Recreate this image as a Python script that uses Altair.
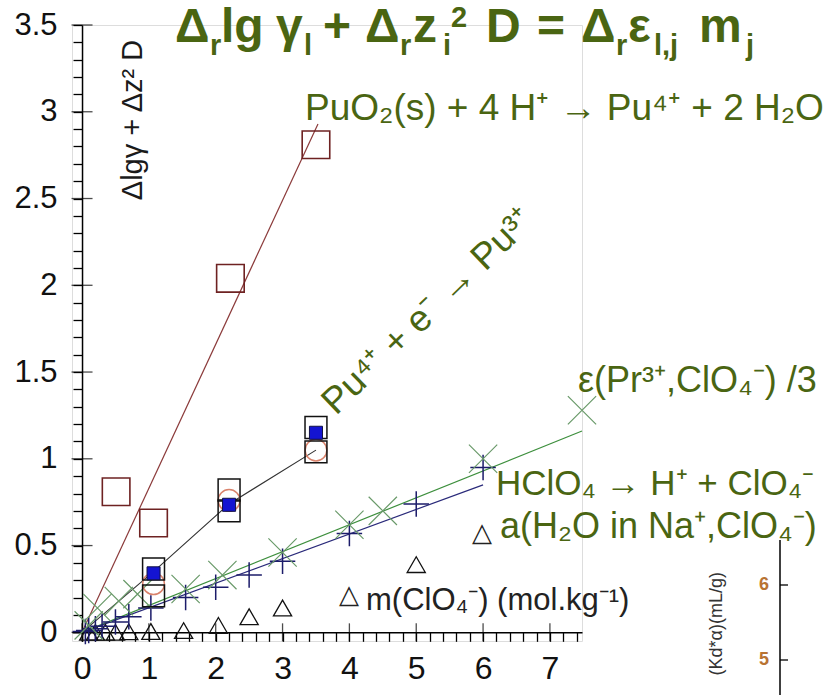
import altair as alt
import pandas as pd

# ---------------- data ----------------
# PuO2(s) solubility: open squares + fitted line
pu_sol_x = [0.51, 1.07, 2.22, 3.50]
pu_sol_y = [0.81, 0.63, 2.04, 2.81]
pu_sol_fit_x = [0.0, 3.53]
pu_sol_fit_y = [0.0, 2.93]

# Pu4+ + e- -> Pu3+ : open squares, filled squares, open circles, line
redox_sq_x = [1.07, 1.07, 2.20, 2.20, 3.50, 3.50]
redox_sq_y = [0.365, 0.21, 0.82, 0.70, 1.18, 1.04]
redox_fill_x = [1.07, 2.20, 3.50]
redox_fill_y = [0.34, 0.735, 1.15]
redox_circ_x = [1.07, 2.20, 3.50]
redox_circ_y = [0.28, 0.76, 1.05]
redox_fit_x = [0.0, 1.07, 2.20, 3.50]
redox_fit_y = [0.0, 0.35, 0.74, 1.05]

# epsilon(Pr3+, ClO4-)/3 : crosses (x) + line
pr_x = [0.10, 0.23, 0.55, 0.83, 1.55, 2.10, 3.00, 4.00, 4.50, 6.00, 7.48]
pr_y = [0.04, 0.14, 0.18, 0.22, 0.25, 0.33, 0.46, 0.62, 0.70, 1.00, 1.28]
pr_fit_x = [0.0, 7.48]
pr_fit_y = [0.0, 1.16]

# HClO4 -> H+ + ClO4- : plus markers + line
hclo4_x = [0.05, 0.10, 0.20, 0.30, 0.50, 0.70, 1.03, 1.55, 2.00, 2.50, 3.00, 4.00, 5.00, 6.00]
hclo4_y = [0.005, 0.01, 0.02, 0.035, 0.06, 0.09, 0.14, 0.20, 0.26, 0.33, 0.41, 0.57, 0.74, 0.95]
hclo4_fit_x = [0.0, 6.0]
hclo4_fit_y = [0.0, 0.85]

# a(H2O in Na+, ClO4-) : open triangles
aw_x = [0.10, 0.20, 0.35, 0.50, 0.70, 1.03, 1.52, 2.04, 2.50, 3.00, 5.00]
aw_y = [0.0, 0.0, 0.0, 0.0, 0.003, 0.005, 0.01, 0.04, 0.09, 0.14, 0.39]

# axis ticks
x_major = [0, 1, 2, 3, 4, 5, 6, 7]
x_minor = [round(i * 0.2, 1) for i in range(38)]
y_major = [0, 0.5, 1, 1.5, 2, 2.5, 3, 3.5]
y_minor = [round(i * 0.1, 1) for i in range(36)]

# ---------------- layout ----------------
PAD_L, PAD_T = 72, 25
W, H = 510, 616
OLIVE = "#4a6512"
FONT = "Liberation Sans"

xs = alt.Scale(domain=[-0.15, 7.48], nice=False, zero=False)
ys = alt.Scale(domain=[-0.05, 3.5], nice=False, zero=False)

axis_common = dict(
    grid=False, domainColor="black", domainWidth=1.5, tickColor="black",
    tickWidth=1.3, tickSize=9, labelColor="#111", labelFont=FONT,
    labelOverlap=False, labelFlush=False, format="~g", title=None,
)
xaxis = alt.Axis(values=x_minor, offset=-0.05 * H / 3.55,
                 labelExpr="abs(datum.value - round(datum.value)) < 0.001 ? datum.label : ''",
                 labelFontSize=32, labelPadding=12, **axis_common)
yaxis = alt.Axis(values=y_minor, offset=-0.15 * W / 7.63,
                 labelExpr="abs(datum.value*2 - round(datum.value*2)) < 0.001 ? datum.label : ''",
                 labelFontSize=31, labelPadding=16, **axis_common)

X = alt.X("x:Q", scale=xs, axis=xaxis)
Y = alt.Y("y:Q", scale=ys, axis=yaxis)


def df(xv, yv):
    return pd.DataFrame({"x": xv, "y": yv})


def line(xv, yv, color, w=1.2):
    return alt.Chart(df(xv, yv)).mark_line(color=color, strokeWidth=w).encode(x=X, y=Y)


def pts(xv, yv, shape, size, color, filled=False, fill=None, sw=1.4):
    kw = dict(shape=shape, size=size, strokeWidth=sw, opacity=1)
    if filled:
        kw.update(filled=True, fill=fill, stroke=color)
    else:
        kw.update(filled=False, color=color)
    return alt.Chart(df(xv, yv)).mark_point(**kw).encode(x=X, y=Y)


ONE = pd.DataFrame({"a": [0]})


def txt(text, px, py, size, color=OLIVE, weight="normal", angle=0, align="left",
        baseline="alphabetic", font=FONT):
    kw = dict(text=text, fontSize=size, color=color, fontWeight=weight, align=align,
              baseline=baseline, font=font)
    if angle:
        kw["angle"] = angle
    return alt.Chart(ONE).mark_text(**kw).encode(
        x=alt.value(px - PAD_L), y=alt.value(py - PAD_T))


XPATH = "M-1,-1L1,1M-1,1L1,-1"
PPATH = "M-1,0L1,0M0,-1L0,1"

layers = [
    line(pu_sol_fit_x, pu_sol_fit_y, "#8b3a3a"),
    line(redox_fit_x, redox_fit_y, "#333333", 1.1),
    line(pr_fit_x, pr_fit_y, "#3d8f3d", 1.2),
    line(hclo4_fit_x, hclo4_fit_y, "#2a2a7a", 1.2),
    # major ticks crossing the axes
    alt.Chart(df(x_major, [0] * len(x_major))).mark_tick(
        orient="vertical", size=18, thickness=1.3, color="black").encode(x=X, y=Y),
    alt.Chart(df([0] * len(y_major), y_major)).mark_tick(
        orient="horizontal", size=21, thickness=1.3, color="black").encode(x=X, y=Y),
    pts(aw_x, aw_y, "triangle-up", 330, "#111111", sw=1.3),
    pts(hclo4_x, hclo4_y, PPATH, 650, "#1c1c6a", sw=1.5),
    pts(pr_x, pr_y, XPATH, 800, "#6a9a6a", sw=1.2),
    pts(pu_sol_x, pu_sol_y, "square", 760, "#6e2222", sw=1.6),
    pts(redox_circ_x, redox_circ_y, "circle", 470, "#d9826b", sw=1.5),
    pts(redox_sq_x, redox_sq_y, "square", 480, "#111111", sw=1.5),
    pts(redox_fill_x, redox_fill_y, "square", 170, "#111144", filled=True, fill="#1414d2", sw=1),
]

# title  (Δr lg γl + Δr zi² D = Δr εl,j mj)
title_parts = [
    ("Δ", 175, 42, 48), ("r", 210, 55, 29), ("lg", 221, 42, 48), ("γ", 276, 42, 48),
    ("l", 304, 55, 29), ("+", 323, 42, 48), ("Δ", 365, 42, 48), ("r", 400, 55, 29),
    ("z", 413, 42, 48), ("i", 443, 55, 29), ("2", 451, 27, 29), ("D", 486, 42, 48),
    ("=", 537, 42, 48), ("Δ", 581, 42, 48), ("r", 616, 55, 29), ("ε", 628, 42, 48),
    ("l,j", 654, 55, 29), ("m", 699, 42, 48), ("j", 746, 55, 29),
]
for t, px, py, s in title_parts:
    layers.append(txt(t, px, py, s, weight="bold"))

layers += [
    txt("Δlgγ + Δz² D", 142, 120, 29, color="#1a1a1a", angle=270, align="center"),
    txt("PuO₂(s) + 4 H⁺ → Pu⁴⁺ + 2 H₂O", 305, 120, 37),
    txt("Pu⁴⁺ + e⁻ → Pu³⁺", 336, 416, 37, angle=316),
    txt("ε(Pr³⁺,ClO₄⁻) /3", 578, 392, 36),
    txt("HClO₄ → H⁺ + ClO₄⁻", 496, 495, 35),
    txt("△", 472, 541, 26, color="#222222"),
    txt("a(H₂O in Na⁺,ClO₄⁻)", 500, 538, 36),
    txt("△", 339, 603, 26, color="#222222"),
    txt("m(ClO₄⁻) (mol.kg⁻¹)", 366, 610, 31, color="#222222"),
    # fragment of a neighbouring chart, bottom right
    alt.Chart(ONE).mark_rule(color="black", strokeWidth=1.5).encode(
        x=alt.value(780 - PAD_L), y=alt.value(540 - PAD_T), y2=alt.value(700 - PAD_T)),
    alt.Chart(ONE).mark_rule(color="black", strokeWidth=1.3).encode(
        x=alt.value(780 - PAD_L), x2=alt.value(788 - PAD_L), y=alt.value(585 - PAD_T)),
    alt.Chart(ONE).mark_rule(color="black", strokeWidth=1.3).encode(
        x=alt.value(780 - PAD_L), x2=alt.value(788 - PAD_L), y=alt.value(660 - PAD_T)),
    txt("6", 764, 585, 18, color="#b87333", weight="bold", align="center", baseline="middle"),
    txt("5", 764, 660, 18, color="#b87333", weight="bold", align="center", baseline="middle"),
    txt("(Kd*α)(mL/g)", 722, 572, 18, color="#333333", angle=270, align="right"),
]

chart = alt.layer(*layers).properties(
    width=W, height=H,
    padding={"left": PAD_L, "top": PAD_T, "right": 830 - PAD_L - W, "bottom": 695 - PAD_T - H},
    autosize=alt.AutoSizeParams(type="none"),
).configure_view(stroke=None).configure(background="white")

chart.save("out.html", embed_options={"renderer": "svg", "actions": False})
